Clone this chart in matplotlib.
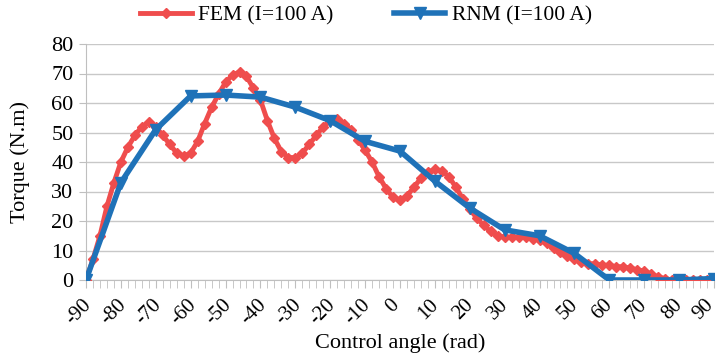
import numpy as np
import matplotlib
matplotlib.use("Agg")
import matplotlib.pyplot as plt
import matplotlib.transforms as mtransforms

plt.rcParams['font.family'] = ['Liberation Serif', 'DejaVu Serif']

# FEM torque, every 2 degrees from -90 to 90
fem_angle = np.arange(-90, 91, 2)
fem_torque = [0, 7, 15, 25, 33, 40, 45, 49, 52, 53.5,
              52, 49, 46, 43, 42, 43, 47, 53, 58.5, 63,
              67, 69.5, 70.5, 69, 65, 61, 54, 48, 43.5, 41.5,
              41.5, 43, 46, 49, 52, 54, 54.5, 53, 51, 47.5,
              44, 40, 35, 31, 28, 27, 28.5, 31.5, 34.5, 36.5,
              37.5, 37, 35, 31.5, 27.5, 24, 21, 18.5, 16.5, 15,
              14.5, 14.5, 14.5, 14.5, 14, 13.5, 12.5, 11, 9.5, 8,
              7, 6, 5.5, 5.5, 5, 5, 4.5, 4.5, 4, 3.5,
              3, 2, 1, 0.5, 0, 0, 0, 0, 0, 0, 0]

# RNM torque, every 10 degrees
rnm_angle = np.arange(-90, 91, 10)
rnm_torque = [0, 33, 51, 62.4, 62.7, 62, 58.6, 54, 47, 43.7,
              33.5, 24.4, 17, 15, 9, 0, 0, 0, 0.5]

fig = plt.figure(figsize=(7.19, 3.58), dpi=100)
ax = fig.add_axes([86/719, 78/358, 628/719, 236/358])

ax.plot(fem_angle, fem_torque, color='#EF4D4D', lw=3.5, marker='D', ms=5.5,
        label='FEM (I=100 A)', zorder=3)
ax.plot(rnm_angle, rnm_torque, color='#1F72B8', lw=4, marker='v', ms=9,
        label='RNM (I=100 A)', zorder=4)

ax.set_xlim(-90, 90)
ax.set_ylim(0, 80)
ax.set_xticks(np.arange(-90, 91, 10))
ax.set_xticks(np.arange(-90, 91, 2), minor=True)
ax.set_yticks(np.arange(0, 81, 10))
ax.set_xticklabels([str(v) for v in range(-90, 91, 10)], rotation=45)
ax.tick_params(axis='x', which='both', length=6, color='#BFBFBF', direction='out', pad=5)
ax.tick_params(axis='y', length=5, color='#BFBFBF', direction='out', pad=4)
ax.tick_params(axis='x', labelsize=15)
ax.tick_params(axis='y', labelsize=16)

# nudge rotated labels a little left; the last one a bit more so it stays inside
labels = ax.get_xticklabels()
for i, lbl in enumerate(labels):
    dx = -7.5 if i == len(labels) - 1 else -5
    shift = mtransforms.ScaledTranslation(dx/72, 0, fig.dpi_scale_trans)
    lbl.set_transform(lbl.get_transform() + shift)

ax.grid(axis='y', color='#C8C8C8', lw=1)
ax.set_axisbelow(True)
for s in ['top', 'right']:
    ax.spines[s].set_visible(False)
ax.spines['left'].set_color('#BFBFBF')
ax.spines['bottom'].set_color('#BFBFBF')

ax.set_xlabel('Control angle (rad)', fontsize=16)
ax.set_ylabel('Torque (N.m)', fontsize=16)
ax.xaxis.set_label_coords(0.5, -0.225)
ax.yaxis.set_label_coords(-0.089, 0.5)

fig.legend(loc='center', bbox_to_anchor=(366/719, 1 - 15/358), ncol=2, frameon=False,
           fontsize=15.5, handlelength=2.4, handletextpad=0.3, columnspacing=2.8,
           borderaxespad=0)

fig.savefig('out.png', dpi=100)
